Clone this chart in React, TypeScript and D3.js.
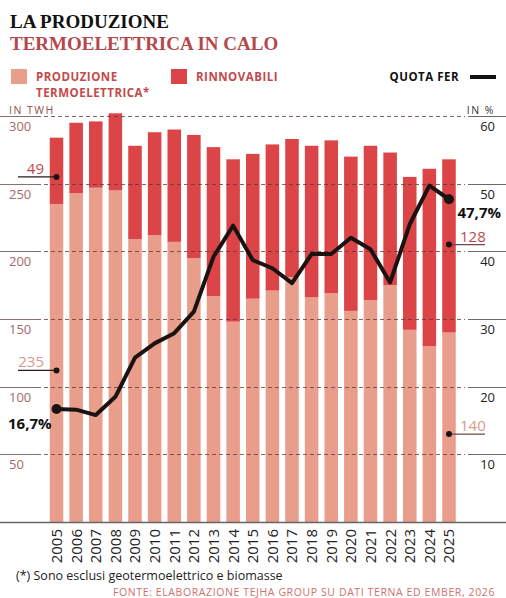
import React, { useRef, useEffect } from "react";
import * as d3 from "d3";

// Produzione termoelettrica vs rinnovabili (TWh) e quota FER (%)
const years = [
  "2005", "2006", "2007", "2008", "2009", "2010", "2011", "2012", "2013", "2014", "2015",
  "2016", "2017", "2018", "2019", "2020", "2021", "2022", "2023", "2024", "2025",
];
const thermo = [235, 243, 247, 245, 209, 212, 207, 195, 167, 148, 165, 171, 181, 166, 169, 156, 164, 175, 142, 130, 140];
const renew = [49, 52, 49, 57, 69, 76, 83, 91, 110, 120, 107, 108, 102, 112, 113, 114, 114, 98, 113, 131, 128];
const quotaFer = [16.7, 16.6, 15.8, 18.5, 24.3, 26.4, 27.9, 31.1, 39.2, 43.8, 38.7, 37.5, 35.3, 39.6, 39.6, 42.0, 40.3, 35.4, 44.0, 49.7, 47.7];

const leftTicks = [50, 100, 150, 200, 250, 300];
const rightTicks = [10, 20, 30, 40, 50, 60];

const C_THERMO = "#e99e8c";
const C_RENEW = "#dc4547";
const C_RED_TEXT = "#c24a4c";
const C_SALMON_TEXT = "#d49a8c";
const SANS = "'Open Sans', sans-serif";

const App = () => {
  const svgRef = useRef<SVGSVGElement | null>(null);

  useEffect(() => {
    const W = 506;
    const H = 598;
    const svg = d3.select(svgRef.current);
    svg.selectAll("*").remove();
    svg.attr("width", W).attr("height", H).style("background", "#fff");

    const x = d3
      .scaleBand<string>()
      .domain(years)
      .range([46.7, 458.8])
      .paddingInner(0.31)
      .paddingOuter(0.155);
    const yL = d3.scaleLinear().domain([0, 300]).range([522, 116]);
    const yR = d3.scaleLinear().domain([0, 60]).range([522, 116]);
    const cx = (yr: string) => (x(yr) as number) + x.bandwidth() / 2;

    // titolo
    svg.append("text").attr("x", 10).attr("y", 28)
      .attr("font-family", "'Liberation Serif', serif").attr("font-weight", 700)
      .attr("font-size", 19).attr("fill", "#111").text("LA PRODUZIONE");
    svg.append("text").attr("x", 10).attr("y", 50)
      .attr("font-family", "'Liberation Serif', serif").attr("font-weight", 700)
      .attr("font-size", 19).attr("fill", "#b5484c").text("TERMOELETTRICA IN CALO");

    // legenda
    const leg = svg.append("g").attr("font-family", SANS).attr("font-weight", 700)
      .attr("font-size", 11.5).attr("letter-spacing", 0.5);
    leg.append("rect").attr("x", 11).attr("y", 69).attr("width", 16).attr("height", 15).attr("fill", C_THERMO);
    leg.append("text").attr("x", 36).attr("y", 81).attr("fill", C_RED_TEXT).text("PRODUZIONE");
    leg.append("text").attr("x", 36).attr("y", 97).attr("fill", C_RED_TEXT).text("TERMOELETTRICA*");
    leg.append("rect").attr("x", 171).attr("y", 69).attr("width", 16).attr("height", 15).attr("fill", C_RENEW);
    leg.append("text").attr("x", 196).attr("y", 81).attr("fill", C_RED_TEXT).text("RINNOVABILI");
    leg.append("text").attr("x", 459).attr("y", 81).attr("text-anchor", "end").attr("fill", "#111").text("QUOTA FER");
    leg.append("line").attr("x1", 470).attr("x2", 496).attr("y1", 77).attr("y2", 77)
      .attr("stroke", "#111").attr("stroke-width", 4);

    // unità
    svg.append("text").attr("x", 9).attr("y", 114).attr("font-family", SANS).attr("font-size", 10.5)
      .attr("letter-spacing", 1.5).attr("fill", "#8a4f4f").text("IN TWH");
    svg.append("text").attr("x", 495).attr("y", 114).attr("text-anchor", "end").attr("font-family", SANS)
      .attr("font-size", 10.5).attr("letter-spacing", 1.5).attr("fill", "#333").text("IN %");

    // barre impilate
    const bars = svg.append("g");
    years.forEach((yr, i) => {
      bars.append("rect").attr("x", x(yr) as number).attr("width", x.bandwidth())
        .attr("y", yL(thermo[i])).attr("height", yL(0) - yL(thermo[i])).attr("fill", C_THERMO);
      bars.append("rect").attr("x", x(yr) as number).attr("width", x.bandwidth())
        .attr("y", yL(thermo[i] + renew[i])).attr("height", yL(thermo[i]) - yL(thermo[i] + renew[i]))
        .attr("fill", C_RENEW);
    });

    // griglia: tratto pieno ai lati, tratteggio sopra le barre
    const grid = svg.append("g");
    leftTicks.forEach((t) => {
      const y = Math.round(yL(t)) + 0.5;
      grid.append("line").attr("x1", 0).attr("x2", 37).attr("y1", y).attr("y2", y)
        .attr("stroke", "#8a7070").attr("stroke-width", 1);
      grid.append("line").attr("x1", 37).attr("x2", 465).attr("y1", y).attr("y2", y)
        .attr("stroke", "#5a3434").attr("stroke-opacity", 0.75).attr("stroke-width", 1)
        .attr("stroke-dasharray", "4,3");
      grid.append("line").attr("x1", 468).attr("x2", W).attr("y1", y).attr("y2", y)
        .attr("stroke", "#6a6a6a").attr("stroke-width", 1);
    });
    svg.append("line").attr("x1", 0).attr("x2", W).attr("y1", 522.5).attr("y2", 522.5)
      .attr("stroke", "#666").attr("stroke-width", 1.3);

    // etichette assi
    const axL = svg.append("g").attr("font-family", SANS).attr("font-size", 13).attr("fill", "#a86a6a");
    leftTicks.forEach((t) => {
      axL.append("text").attr("x", 9).attr("y", yL(t) + 15).text(t);
    });
    const axR = svg.append("g").attr("font-family", SANS).attr("font-size", 13).attr("fill", "#222")
      .attr("text-anchor", "end");
    rightTicks.forEach((t) => {
      axR.append("text").attr("x", 495).attr("y", yR(t) + 15).text(t);
    });

    // anni
    const axX = svg.append("g").attr("font-family", SANS).attr("font-size", 15).attr("fill", "#222");
    years.forEach((yr) => {
      axX.append("text")
        .attr("transform", `translate(${cx(yr)},529) rotate(-90)`)
        .attr("text-anchor", "end").attr("dy", "0.36em").text(yr);
    });

    // linea quota FER
    const line = d3.line<number>()
      .x((_, i) => cx(years[i]))
      .y((d) => yR(d));
    svg.append("path").datum(quotaFer).attr("d", line).attr("fill", "none")
      .attr("stroke", "#1b1212").attr("stroke-width", 4).attr("stroke-linejoin", "round");
    const last = quotaFer.length - 1;
    [0, last].forEach((i) => {
      svg.append("circle").attr("cx", cx(years[i])).attr("cy", yR(quotaFer[i])).attr("r", 5).attr("fill", "#1b1212");
    });
    svg.append("text").attr("x", 8).attr("y", yR(quotaFer[0]) + 20).attr("font-family", SANS)
      .attr("font-weight", 700).attr("font-size", 15).attr("fill", "#111").text("16,7%");
    svg.append("text").attr("x", 501).attr("y", yR(quotaFer[last]) + 19).attr("text-anchor", "end")
      .attr("font-family", SANS).attr("font-weight", 700).attr("font-size", 15).attr("fill", "#111").text("47,7%");

    // valori annotati 2005 / 2025
    const notes = [
      { yr: "2005", v: 255, label: String(renew[0]), color: C_RED_TEXT, side: "left" },
      { yr: "2005", v: 112, label: String(thermo[0]), color: C_SALMON_TEXT, side: "left" },
      { yr: "2025", v: 205, label: String(renew[last]), color: C_RED_TEXT, side: "right" },
      { yr: "2025", v: 65, label: String(thermo[last]), color: C_SALMON_TEXT, side: "right" },
    ];
    notes.forEach((n) => {
      const px = cx(n.yr);
      const py = yL(n.v);
      const x2 = n.side === "left" ? 18 : 485;
      svg.append("line").attr("x1", px).attr("x2", x2).attr("y1", py).attr("y2", py)
        .attr("stroke", n.side === "left" ? "#2a1a1a" : "#6a4a4a").attr("stroke-width", 1.2);
      svg.append("circle").attr("cx", px).attr("cy", py).attr("r", 3).attr("fill", "#1b1212");
      svg.append("text")
        .attr("x", n.side === "left" ? 44 : 460)
        .attr("y", py - 3)
        .attr("text-anchor", n.side === "left" ? "end" : "start")
        .attr("font-family", SANS).attr("font-size", 15).attr("fill", n.color).text(n.label);
    });

    // note
    svg.append("text").attr("x", 16).attr("y", 580).attr("font-family", SANS).attr("font-size", 12.5)
      .attr("fill", "#222").text("(*) Sono esclusi geotermoelettrico e biomasse");
    svg.append("text").attr("x", 495).attr("y", 596).attr("text-anchor", "end").attr("font-family", SANS)
      .attr("font-size", 10.5).attr("letter-spacing", 0.6).attr("fill", "#d0706c")
      .text("FONTE: ELABORAZIONE TEJHA GROUP SU DATI TERNA ED EMBER, 2026");
  }, []);

  return <svg ref={svgRef} style={{ position: "absolute", left: 0, top: 0 }}></svg>;
};

export default App;
